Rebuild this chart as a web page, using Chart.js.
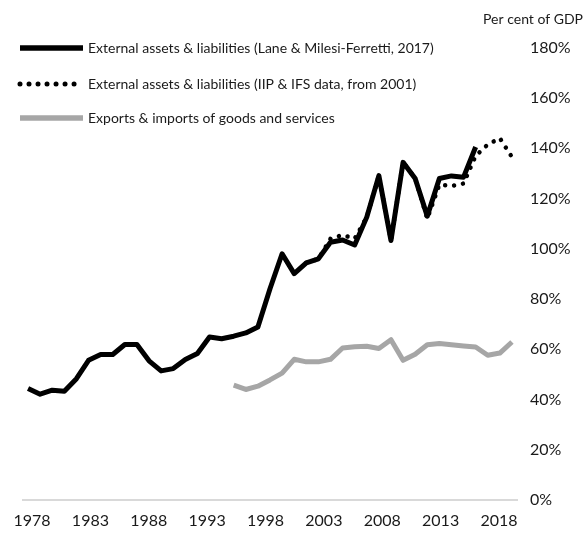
<!DOCTYPE html>
<html>
<head>
<meta charset="utf-8">
<script src="https://cdn.jsdelivr.net/npm/chart.js@4/dist/chart.umd.min.js"></script>
<style>
  html, body { margin: 0; padding: 0; background: #fff; }
  #wrap { width: 586px; height: 534px; position: relative; }
</style>
</head>
<body>
<div id="wrap"><canvas id="chart"></canvas></div>
<script>
// x categories (one per year) and the labels shown on the axis
const years = [1978, 1979, 1980, 1981, 1982, 1983, 1984, 1985, 1986, 1987,
    1988, 1989, 1990, 1991, 1992, 1993, 1994, 1995, 1996, 1997,
    1998, 1999, 2000, 2001, 2002, 2003, 2004, 2005, 2006, 2007,
    2008, 2009, 2010, 2011, 2012, 2013, 2014, 2015, 2016, 2017, 2018];
const shownYears = [1978, 1983, 1988, 1993, 1998, 2003, 2008, 2013, 2018];
const yTicks = [0, 20, 40, 60, 80, 100, 120, 140, 160, 180];

// Lane & Milesi-Ferretti (2017), 1978-2015
const laneStart = 1978;
const laneMF = [44.4, 42.1, 43.7, 43.3, 48.3, 55.6, 57.9, 57.9, 61.9, 61.9,
    55.4, 51.4, 52.3, 55.9, 58.3, 64.9, 64.2, 65.2, 66.5, 68.9,
    84.1, 98.0, 90.1, 94.4, 96.0, 102.6, 103.5, 101.5, 112.6, 129.1,
    103.3, 134.4, 128.0, 113.0, 128.0, 129.0, 128.5, 140.5];

// IIP & IFS data, 2001-2018
const iipStart = 2001;
const iipIfs = [94.4, 96.0, 104.0, 105.5, 104.0, 112.6, 129.1, 103.3, 134.4, 128.0,
    112.0, 125.5, 125.0, 126.0, 137.0, 141.5, 144.0, 136.5];

// Exports & imports, 1995-2018
const tradeStart = 1995;
const trade = [45.7, 44.0, 45.3, 47.8, 50.5, 56.0, 55.0, 55.0, 56.0, 60.5,
    61.0, 61.2, 60.3, 63.8, 55.6, 58.0, 61.8, 62.3, 61.8, 61.3,
    60.9, 57.6, 58.5, 62.9];

const FONT = 'Lato, "Open Sans", sans-serif';
const TEXT = '#1a1a1a';

// line values up onto the year categories (null where no data)
function alignToYears(start, values) {
    return years.map(y => {
        const i = y - start;
        return i >= 0 && i < values.length ? values[i] : null;
    });
}

// legend drawn in the top-left corner, over the plot area
const cornerLegend = {
    id: 'cornerLegend',
    afterDraw(chart) {
        const ctx = chart.ctx;
        const rows = [48, 84, 118];
        ctx.save();
        chart.data.datasets.forEach((ds, i) => {
            const y = rows[i];
            ctx.beginPath();
            ctx.strokeStyle = ds.borderColor;
            ctx.lineWidth = ds.borderWidth + 0.5;
            ctx.lineCap = ds.borderCapStyle || 'butt';
            ctx.setLineDash(ds.borderDash || []);
            ctx.moveTo(20, y);
            ctx.lineTo(83, y);
            ctx.stroke();
            ctx.setLineDash([]);
            ctx.fillStyle = TEXT;
            ctx.font = '14px ' + FONT;
            ctx.textBaseline = 'middle';
            ctx.textAlign = 'left';
            ctx.fillText(ds.label, 88, y);
        });
        ctx.restore();
    }
};

new Chart(document.getElementById('chart'), {
    type: 'line',
    data: {
        labels: years,
        datasets: [{
            label: 'External assets & liabilities (Lane & Milesi-Ferretti, 2017)',
            data: alignToYears(laneStart, laneMF),
            borderColor: '#000000',
            borderWidth: 5,
            order: 1
        }, {
            label: 'External assets & liabilities (IIP & IFS data, from 2001)',
            data: alignToYears(iipStart, iipIfs),
            borderColor: '#000000',
            borderWidth: 4.5,
            borderDash: [0.01, 9],
            borderCapStyle: 'round',
            order: 0
        }, {
            label: 'Exports & imports of goods and services',
            data: alignToYears(tradeStart, trade),
            borderColor: '#a6a6a6',
            borderWidth: 5,
            order: 2
        }]
    },
    options: {
        responsive: true,
        maintainAspectRatio: false,
        animation: false,
        spanGaps: false,
        elements: {
            point: { radius: 0 },
            line: { tension: 0, borderJoinStyle: 'round' }
        },
        layout: {
            padding: { left: 22, right: 3, top: 0, bottom: 3 }
        },
        plugins: {
            legend: { display: false },
            tooltip: { enabled: false },
            title: {
                display: true,
                text: 'Per cent of GDP',
                align: 'end',
                color: TEXT,
                font: { family: FONT, size: 14, weight: 'normal' },
                padding: { top: 11, bottom: 20 }
            }
        },
        scales: {
            // data axis: one slot per year
            x: {
                type: 'category',
                offset: true,
                display: false
            },
            // label axis, spaced as in the source figure
            xLabels: {
                type: 'linear',
                position: 'bottom',
                min: 1977.14,
                max: 2019.63,
                afterBuildTicks: scale => {
                    scale.ticks = shownYears.map(v => ({ value: v }));
                },
                afterFit: scale => { scale.height = 31; },
                grid: { display: false, drawTicks: false },
                border: { display: false },
                ticks: {
                    maxRotation: 0,
                    padding: 11,
                    color: TEXT,
                    font: { family: FONT, size: 16 },
                    callback: v => String(v)
                }
            },
            y: {
                position: 'right',
                min: 0,
                max: 180,
                afterBuildTicks: scale => {
                    scale.ticks = yTicks.map(v => ({ value: v }));
                },
                afterFit: scale => { scale.width = 65; },
                grid: {
                    drawTicks: false,
                    lineWidth: 2,
                    color: ctx => ctx.tick && ctx.tick.value === 0 ? '#d9d9d9' : 'rgba(0,0,0,0)'
                },
                border: { display: false },
                ticks: {
                    padding: 12,
                    color: TEXT,
                    font: { family: FONT, size: 16 },
                    callback: v => v + '%'
                }
            }
        }
    },
    plugins: [cornerLegend]
});
</script>
</body>
</html>
